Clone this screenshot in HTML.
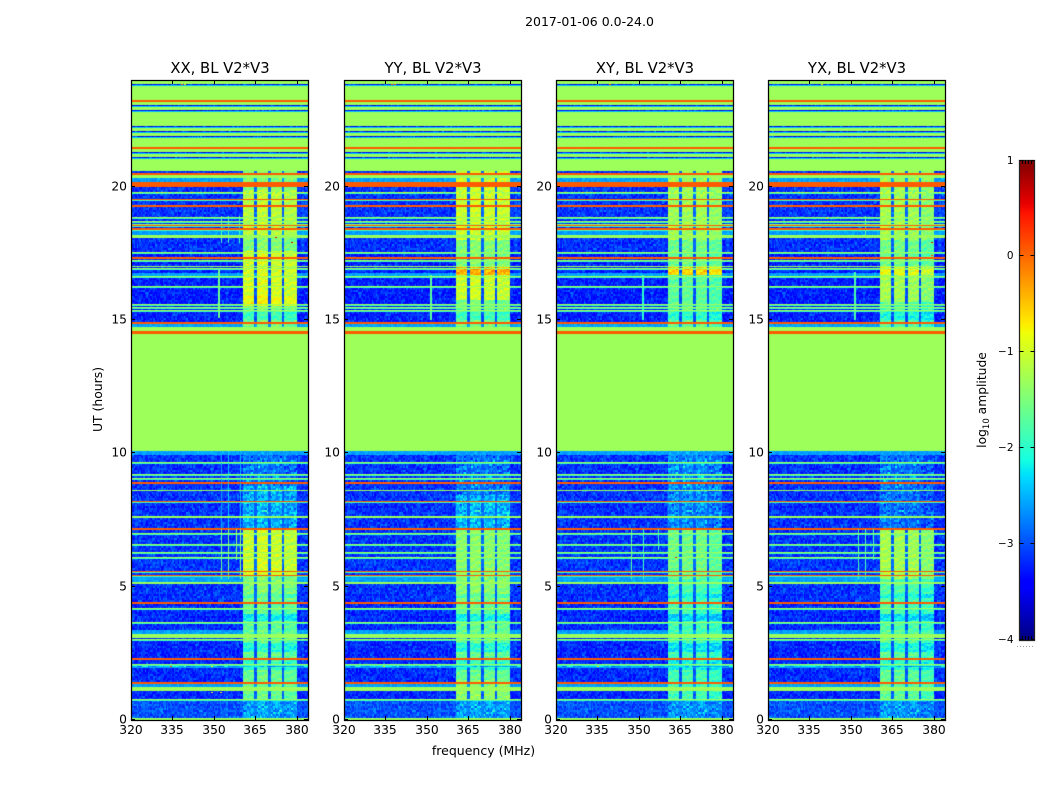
<!DOCTYPE html>
<html>
<head>
<meta charset="utf-8">
<title>2017-01-06 amplitude spectrograms</title>
<style>
html,body{margin:0;padding:0;background:#fff;width:1050px;height:800px;overflow:hidden}
#stage{position:relative;width:1050px;height:800px}
canvas{position:absolute;top:80px;display:block}
svg{position:absolute;left:0;top:0}
text{font-family:"DejaVu Sans","Liberation Sans",sans-serif;fill:#000}
</style>
</head>
<body>
<div id="stage"></div>
<script>
const panelNames = ['XX, BL V2*V3', 'YY, BL V2*V3', 'XY, BL V2*V3', 'YX, BL V2*V3'];
const xTicks = [320, 335, 350, 365, 380];
const yTicks = [0, 5, 10, 15, 20];
const colorTicks = [1, 0, -1, -2, -3, -4];

const flagLevel = -1.3;
const redLevel = 0.07;
const blueLevel = -3.45;
const skyLevel = -2.6;

const redHours = [23.22, 21.48, 20.48, 20.03, 19.31, 18.44, 17.34, 14.91, 8.91, 7.19, 4.41, 2.31, 1.41];
const thinRedHours = [19.5, 18.53, 18.38, 8.2, 5.56, 5.43];
const redSpans = [[20.09, 20.16], [14.51, 14.57]];
const greenHours = [18.85, 18.69, 18.59, 17.54, 17.22, 16.92, 16.62, 16.26, 15.59, 15.47, 15.36, 9.66, 9.21, 9.06, 7.0, 6.59, 6.29, 6.1, 4.19, 3.67, 3.03, 2.09, 0.78];
const greenSpans = [[20.6, 24], [20.33, 20.46], [18.08, 18.19], [16.99, 17.04], [10.12, 14.74], [8.61, 8.66], [7.58, 7.67], [5.1, 5.19], [3.11, 3.24], [1.09, 1.24], [0, 0.08]];
const blueHours = [23.84, 23.05, 22.86, 22.26, 22.08, 21.89, 21.29, 21.1];
const skySpans = [[20.18, 20.33], [18.19, 18.34], [16.65, 16.79], [14.74, 14.85], [9.94, 10.12], [5.21, 5.43], [3.24, 3.41], [1.24, 1.39]];
const noisyHours = [19.79];
const noisySkyHours = [2.02];

const floorSpans = [[0, 0.75, -3.0], [0.75, 4.5, -3.2], [4.5, 7.2, -3.15], [7.2, 10.12, -3.15], [14.74, 17.6, -3.25], [17.6, 20.6, -3.15]];

const bandPieces = [[360.5, 364.6], [365.6, 369.6], [370.6, 374.6], [375.6, 380]];
const pieceGain = [[0, 0.08, 0.02, -0.05], [0, 0.05, 0.02, -0.02], [0, 0.02, 0.02, -0.1], [0.05, 0.03, 0, -0.15]];

const bandXX = [[19.9, 20.6, -1.5], [18.2, 19.9, -1.15], [17.6, 18.2, -1.5], [15.9, 17.6, -1.0], [15.56, 15.9, -0.85], [14.7, 15.56, -1.6], [8.8, 10.12, -2.85], [7.2, 8.8, -2.55], [5.4, 7.2, -1.05], [4.5, 5.4, -1.5], [3.4, 4.5, -1.7], [0.75, 3.4, -1.65], [0, 0.75, -2.6]];
const bandYY = [[18, 20.6, -1.05], [17.06, 18, -1.5], [16.69, 17.06, -0.4], [15.75, 16.69, -1.05], [14.7, 15.75, -1.6], [8.44, 10.12, -2.85], [7.2, 8.44, -2.5], [4.5, 7.2, -1.45], [1.5, 4.5, -1.65], [0.75, 1.5, -1.4], [0, 0.75, -2.6]];
const bandXY = [[18, 20.6, -1.3], [17.06, 18, -1.6], [16.7, 17.06, -0.6], [14.7, 16.7, -1.7], [7.2, 10.12, -2.7], [5.3, 7.2, -1.6], [0.75, 5.3, -1.85], [0, 0.75, -2.65]];
const bandYX = [[18, 20.6, -1.3], [17.06, 18, -1.6], [16.7, 17.06, -0.9], [15.7, 16.7, -1.3], [14.7, 15.7, -1.8], [7.2, 10.12, -2.85], [5.3, 7.2, -1.3], [3.4, 5.3, -1.8], [0.75, 3.4, -1.7], [0, 0.75, -2.65]];
const bandLevels = [bandXX, bandYY, bandXY, bandYX];
const bandDips = [[3.72, 4.0, -0.5], [2.55, 2.9, -0.4], [1.9, 2.3, -0.3], [4.6, 4.75, -0.3], [15.0, 15.3, -0.3]];

// [panel, MHz, from hour, to hour, level]
const broadVerticals = [
  [0, 351.5, 15.1, 16.9, -1.6], [1, 351, 15, 16.7, -1.7], [2, 351, 15, 16.7, -2.0], [3, 351, 15, 16.8, -1.8]
];
const thinVerticals = [
  [0, 352.5, 5.3, 7.2, -1.6], [0, 355, 5.3, 7.2, -1.5], [0, 358, 6, 7.2, -1.4], [0, 359.5, 5.3, 7.2, -1.4],
  [0, 355, 7.2, 10.1, -2.4], [0, 352.5, 7.2, 10.1, -2.6], [0, 359.5, 7.2, 10.1, -2.5],
  [2, 347, 5.3, 7.2, -1.7], [2, 351.5, 5.3, 7.2, -1.9], [2, 357, 6.4, 7.2, -1.9],
  [3, 352.5, 5.3, 7.2, -1.8], [3, 355, 5.3, 7.2, -1.8], [3, 358, 6, 7.2, -1.8],
  [0, 352.5, 17.9, 18.9, -1.8], [0, 355, 17.9, 18.9, -1.8], [0, 359, 17.9, 18.9, -1.9],
  [3, 355, 18.2, 18.9, -1.8]
];

// [panel, MHz, hour, level]
const specks = [
  [0, 338, 23.84, 0.1], [0, 339, 23.84, -0.6], [1, 337, 23.84, 0.2], [1, 338, 23.84, 0.1], [2, 339, 23.84, 0.2], [3, 339, 23.84, -0.6],
  [0, 334, 2.02, 0.3], [0, 349, 2.02, -0.8], [1, 334, 2.02, -0.8], [2, 335, 2.02, -0.8],
  [0, 349, 1.02, -0.9], [0, 352, 1.02, -0.8], [2, 363, 6.1, 0.4], [3, 341, 18.8, -0.7],
  [0, 372, 18.1, 0.5], [0, 378, 17.9, 0.7], [3, 379, 17.9, 0.6], [3, 379, 17.4, 0.3]
];

const speckle = [0.14, -0.22, 0.05, 0.31, -0.11, 0.02, -0.3, 0.19, 0.42, -0.16, -0.04, 0.25, -0.27, 0.09, 0.36, -0.19, 0.01, -0.09, 0.22, -0.34, 0.12, 0.48, -0.13, -0.24, 0.07, 0.28, -0.06, 0.16, -0.2, 0.33, -0.02, 0.1, -0.28, 0.2, 0.55, -0.15, 0.03];
const mottle = [0.08, -0.14, 0.04, 0.18, -0.06, -0.22, 0.12, 0.02, -0.1, 0.24, -0.18, 0.06, 0.14, -0.04, -0.24, 0.1, 0.2, -0.12, 0.0, 0.16, -0.2, 0.08, -0.08];

const colorMin = -4, colorMax = 1, timeMax = 24, freqMin = 320, freqMax = 384;
const jetR = [[0, 0], [0.35, 0], [0.66, 1], [0.89, 1], [1, 0.5]];
const jetG = [[0, 0], [0.125, 0], [0.375, 1], [0.64, 1], [0.91, 0], [1, 0]];
const jetB = [[0, 0.5], [0.11, 1], [0.34, 1], [0.65, 0], [1, 0]];

const panelLeft = [131, 344, 556, 768];
const panelTop = 80, panelHeight = 640, panelWidth = 177, cols = 128;
const barLeft = 1019.5, barTop = 160, barWidth = 15, barHeight = 480;
const softGreen = -1.9, softBlue = -2.4;
const NS = 'http://www.w3.org/2000/svg';

function ramp(stops, t) {
  for (let i = 1; i < stops.length; i++) {
    if (t <= stops[i][0]) {
      const a = stops[i - 1], b = stops[i];
      return a[1] + (b[1] - a[1]) * (t - a[0]) / (b[0] - a[0]);
    }
  }
  return stops[stops.length - 1][1];
}
function colorOf(v) {
  const t = Math.min(1, Math.max(0, (v - colorMin) / (colorMax - colorMin)));
  return 'rgb(' + Math.round(255 * ramp(jetR, t)) + ',' + Math.round(255 * ramp(jetG, t)) + ',' + Math.round(255 * ramp(jetB, t)) + ')';
}
const lut = [];
for (let i = 0; i <= 400; i++) lut.push(colorOf(colorMin + (colorMax - colorMin) * i / 400));
function lutColor(v) {
  const i = Math.round((v - colorMin) / (colorMax - colorMin) * 400);
  return lut[Math.min(400, Math.max(0, i))];
}
function rowOf(hour) { return Math.min(panelHeight - 1, Math.max(0, Math.floor(hour / timeMax * panelHeight))); }
function colOf(mhz) { return Math.floor((mhz - freqMin) / (freqMax - freqMin) * cols); }
function xScale(p, mhz) { return panelLeft[p] + (mhz - freqMin) / (freqMax - freqMin) * panelWidth; }
function yScale(hour) { return panelTop + panelHeight - hour / timeMax * panelHeight; }
function barY(v) { return barTop + (colorMax - v) / (colorMax - colorMin) * barHeight; }

function drawHeatmap(p, canvas) {
  const ctx = canvas.getContext('2d');
  const floorRow = new Array(panelHeight).fill(-3.2);
  const bandRow = new Array(panelHeight).fill(null);
  const dipRow = new Array(panelHeight).fill(0);
  const skyRow = new Array(panelHeight).fill(false);
  const flagRow = new Array(panelHeight).fill(null);
  const softRow = new Array(panelHeight).fill(null);
  const noisyRow = new Array(panelHeight).fill(false);
  function mark(h, level, noisy, soft) {
    const r = rowOf(h);
    flagRow[r] = level;
    noisyRow[r] = noisy;
    if (r > 0) softRow[r - 1] = soft;
  }
  floorSpans.forEach(function (s) { for (let r = rowOf(s[0]); r < rowOf(s[1]); r++) floorRow[r] = s[2]; });
  bandLevels[p].forEach(function (s) { for (let r = rowOf(s[0]); r < rowOf(s[1]); r++) bandRow[r] = s[2]; });
  bandDips.forEach(function (s) { for (let r = rowOf(s[0]); r < rowOf(s[1]); r++) dipRow[r] = s[2]; });
  skySpans.forEach(function (s) { for (let r = rowOf(s[0]); r < rowOf(s[1]); r++) skyRow[r] = true; });
  greenSpans.forEach(function (s) { for (let r = rowOf(s[0]); r < rowOf(s[1]); r++) flagRow[r] = flagLevel; });
  flagRow[panelHeight - 1] = flagLevel;
  greenHours.forEach(function (h) { mark(h, flagLevel, false, softGreen); });
  blueHours.forEach(function (h) { mark(h, blueLevel, true, softBlue); });
  redSpans.forEach(function (s) { for (let r = rowOf(s[0]); r <= rowOf(s[1]); r++) flagRow[r] = redLevel; });
  redHours.forEach(function (h) { mark(h, redLevel, false, redLevel); });
  thinRedHours.forEach(function (h) { mark(h, redLevel, false, softGreen); });
  noisyHours.forEach(function (h) { mark(h, flagLevel, true, softGreen); });
  noisySkyHours.forEach(function (h) { mark(h, skyLevel, true, skyLevel); });

  const cellW = panelWidth / cols;
  for (let r = 0; r < panelHeight; r++) {
    const y = panelHeight - 1 - r;
    const tr = r >> 1;
    for (let c = 0; c < cols; c++) {
      const mhz = freqMin + (c + 0.5) * (freqMax - freqMin) / cols;
      const n = speckle[(c * 7 + tr * 13 + (c * tr) % 11) % speckle.length];
      let v;
      if (flagRow[r] !== null) {
        v = flagRow[r];
        if (noisyRow[r]) v += n * 1.2;
      } else {
        v = skyRow[r] ? skyLevel + n * 0.35 : floorRow[r] + n * 0.7;
        if (bandRow[r] !== null) {
          let piece = -1;
          bandPieces.forEach(function (b, i) { if (mhz >= b[0] && mhz <= b[1]) piece = i; });
          const weak = bandRow[r] < -2;
          if (piece >= 0) {
            const m = mottle[(tr + c * 3 + piece * 5) % mottle.length];
            const bv = bandRow[r] + dipRow[r] + pieceGain[p][piece] + m + n * (weak ? 0.8 : 0.28);
            v = Math.max(v, bv);
          } else if (mhz > 360.5 && mhz < 380) {
            v = Math.max(v, floorRow[r] + 0.25 + n * 0.4);
          }
        }
      }
      if (softRow[r] !== null && flagRow[r] === null) {
        v = softRow[r] === redLevel ? redLevel : (softRow[r] === softBlue ? softBlue : Math.max(v, softRow[r]));
      } else if (softRow[r] === redLevel) {
        v = redLevel;
      } else if (softRow[r] === softBlue && flagRow[r] === flagLevel) {
        v = softBlue;
      }
      ctx.fillStyle = lutColor(v);
      const x0 = Math.round(c * cellW), x1 = Math.round((c + 1) * cellW);
      ctx.fillRect(x0, y, x1 - x0, 1);
    }
  }
  function paintVertical(s, wide) {
    if (s[0] !== p) return;
    const c = colOf(s[1]);
    for (let r = rowOf(s[2]); r < rowOf(s[3]); r++) {
      if (flagRow[r] !== null) continue;
      ctx.fillStyle = lutColor(s[4]);
      ctx.fillRect(Math.round(c * cellW), panelHeight - 1 - r, wide ? 2 : 1, 1);
    }
  }
  broadVerticals.forEach(function (s) { paintVertical(s, true); });
  thinVerticals.forEach(function (s) { paintVertical(s, false); });
  specks.forEach(function (s) {
    if (s[0] !== p) return;
    ctx.fillStyle = lutColor(s[3]);
    ctx.fillRect(Math.round(colOf(s[1]) * cellW), panelHeight - 1 - rowOf(s[2]), 2, 1);
  });
}

const stage = document.getElementById('stage');
const svg = document.createElementNS(NS, 'svg');
svg.setAttribute('width', '1050');
svg.setAttribute('height', '800');
svg.setAttribute('viewBox', '0 0 1050 800');



function seg(parent, x1, y1, x2, y2, stroke) {
  const l = document.createElementNS(NS, 'line');
  l.setAttribute('x1', x1); l.setAttribute('y1', y1);
  l.setAttribute('x2', x2); l.setAttribute('y2', y2);
  l.setAttribute('stroke', stroke || '#000');
  l.setAttribute('stroke-width', '1');
  parent.appendChild(l);
  return l;
}
function label(parent, x, y, str, size, anchor) {
  const t = document.createElementNS(NS, 'text');
  t.setAttribute('x', x); t.setAttribute('y', y);
  t.setAttribute('font-size', size);
  t.setAttribute('text-anchor', anchor || 'middle');
  t.textContent = str;
  parent.appendChild(t);
  return t;
}

panelNames.forEach(function (name, p) {
  const key = name.slice(0, 2).toLowerCase();
  const canvas = document.createElement('canvas');
  canvas.width = panelWidth;
  canvas.height = panelHeight;
  canvas.style.left = panelLeft[p] + 'px';
  
  
  stage.appendChild(canvas);
  drawHeatmap(p, canvas);

  const g = document.createElementNS(NS, 'g');
  
  
  svg.appendChild(g);

  const frame = document.createElementNS(NS, 'rect');
  frame.setAttribute('x', panelLeft[p] + 0.5);
  frame.setAttribute('y', panelTop + 0.5);
  frame.setAttribute('width', panelWidth);
  frame.setAttribute('height', panelHeight);
  frame.setAttribute('fill', 'none');
  frame.setAttribute('stroke', '#000');
  frame.setAttribute('stroke-width', '1.25');
  
  
  g.appendChild(frame);

  const title = label(g, panelLeft[p] + panelWidth / 2 + 0.5, 73, name, 14.8);
  
  

  xTicks.forEach(function (v) {
    const x = Math.round(xScale(p, v)) + 0.5;
    seg(g, x, panelTop, x, panelTop + 4);
    seg(g, x, panelTop + panelHeight, x, panelTop + panelHeight - 4);
    const t = label(g, x - 0.5, 734, String(v), 12.3);
    
    
  });
  yTicks.forEach(function (v) {
    const y = Math.round(yScale(v)) - 0.5;
    seg(g, panelLeft[p], y, panelLeft[p] + 4, y);
    seg(g, panelLeft[p] + panelWidth, y, panelLeft[p] + panelWidth - 4, y);
    const t = label(g, panelLeft[p] - 4, y + 3.8, String(v), 12.3, 'end');
    
    
  });
});

const suptitle = label(svg, 589.5, 26, '2017-01-06 0.0-24.0', 12.5);



const xTitle = label(svg, 483.5, 755, 'frequency (MHz)', 12.5);



const yTitle = label(svg, 0, 0, 'UT (hours)', 12.4);
yTitle.setAttribute('transform', 'translate(102,399.5) rotate(-90)');



const bar = document.createElementNS(NS, 'g');


svg.appendChild(bar);
const steps = 256;
for (let i = 0; i < steps; i++) {
  const v = colorMin + (colorMax - colorMin) * (i + 0.5) / steps;
  const top = barY(colorMin + (colorMax - colorMin) * (i + 1) / steps);
  const r = document.createElementNS(NS, 'rect');
  r.setAttribute('x', barLeft);
  r.setAttribute('y', top);
  r.setAttribute('width', barWidth);
  r.setAttribute('height', barHeight / steps + 0.5);
  r.setAttribute('fill', colorOf(v));
  bar.appendChild(r);
}
const barFrame = document.createElementNS(NS, 'rect');
barFrame.setAttribute('x', barLeft);
barFrame.setAttribute('y', barTop + 0.5);
barFrame.setAttribute('width', barWidth);
barFrame.setAttribute('height', barHeight);
barFrame.setAttribute('fill', 'none');
barFrame.setAttribute('stroke', '#222');
barFrame.setAttribute('stroke-width', '1.25');


bar.appendChild(barFrame);

colorTicks.forEach(function (v) {
  const y = Math.round(barY(v)) - (v === colorMax ? -0.5 : 0.5);
  seg(bar, barLeft, y, barLeft + 4, y);
  seg(bar, barLeft + barWidth, y, barLeft + barWidth - 4, y);
  const t = label(bar, barLeft - 6, y + 3.5, v < 0 ? '\u2212' + Math.abs(v) : String(v), 10.5, 'end');
  
  
});
for (let i = 1; i < 5; i++) {
  const x = barLeft + Math.round(barWidth * i / 5);
  seg(bar, x, barTop, x, barTop + 4);
  seg(bar, x, barTop + barHeight, x, barTop + barHeight - 4);
}
const dots = seg(bar, 1017, 646.5, 1035, 646.5, '#999');
dots.setAttribute('stroke-dasharray', '1 2');



const barTitle = document.createElementNS(NS, 'text');
barTitle.setAttribute('transform', 'translate(986,400) rotate(-90)');
barTitle.setAttribute('text-anchor', 'middle');
barTitle.setAttribute('font-size', '12.3');


barTitle.appendChild(document.createTextNode('log'));
const sub = document.createElementNS(NS, 'tspan');
sub.setAttribute('font-size', '8.5');
sub.setAttribute('dy', '3');
sub.textContent = '10';
barTitle.appendChild(sub);
const rest = document.createElementNS(NS, 'tspan');
rest.setAttribute('dy', '-3');
rest.textContent = ' amplitude';
barTitle.appendChild(rest);
svg.appendChild(barTitle);

stage.appendChild(svg);
</script>
</body>
</html>
